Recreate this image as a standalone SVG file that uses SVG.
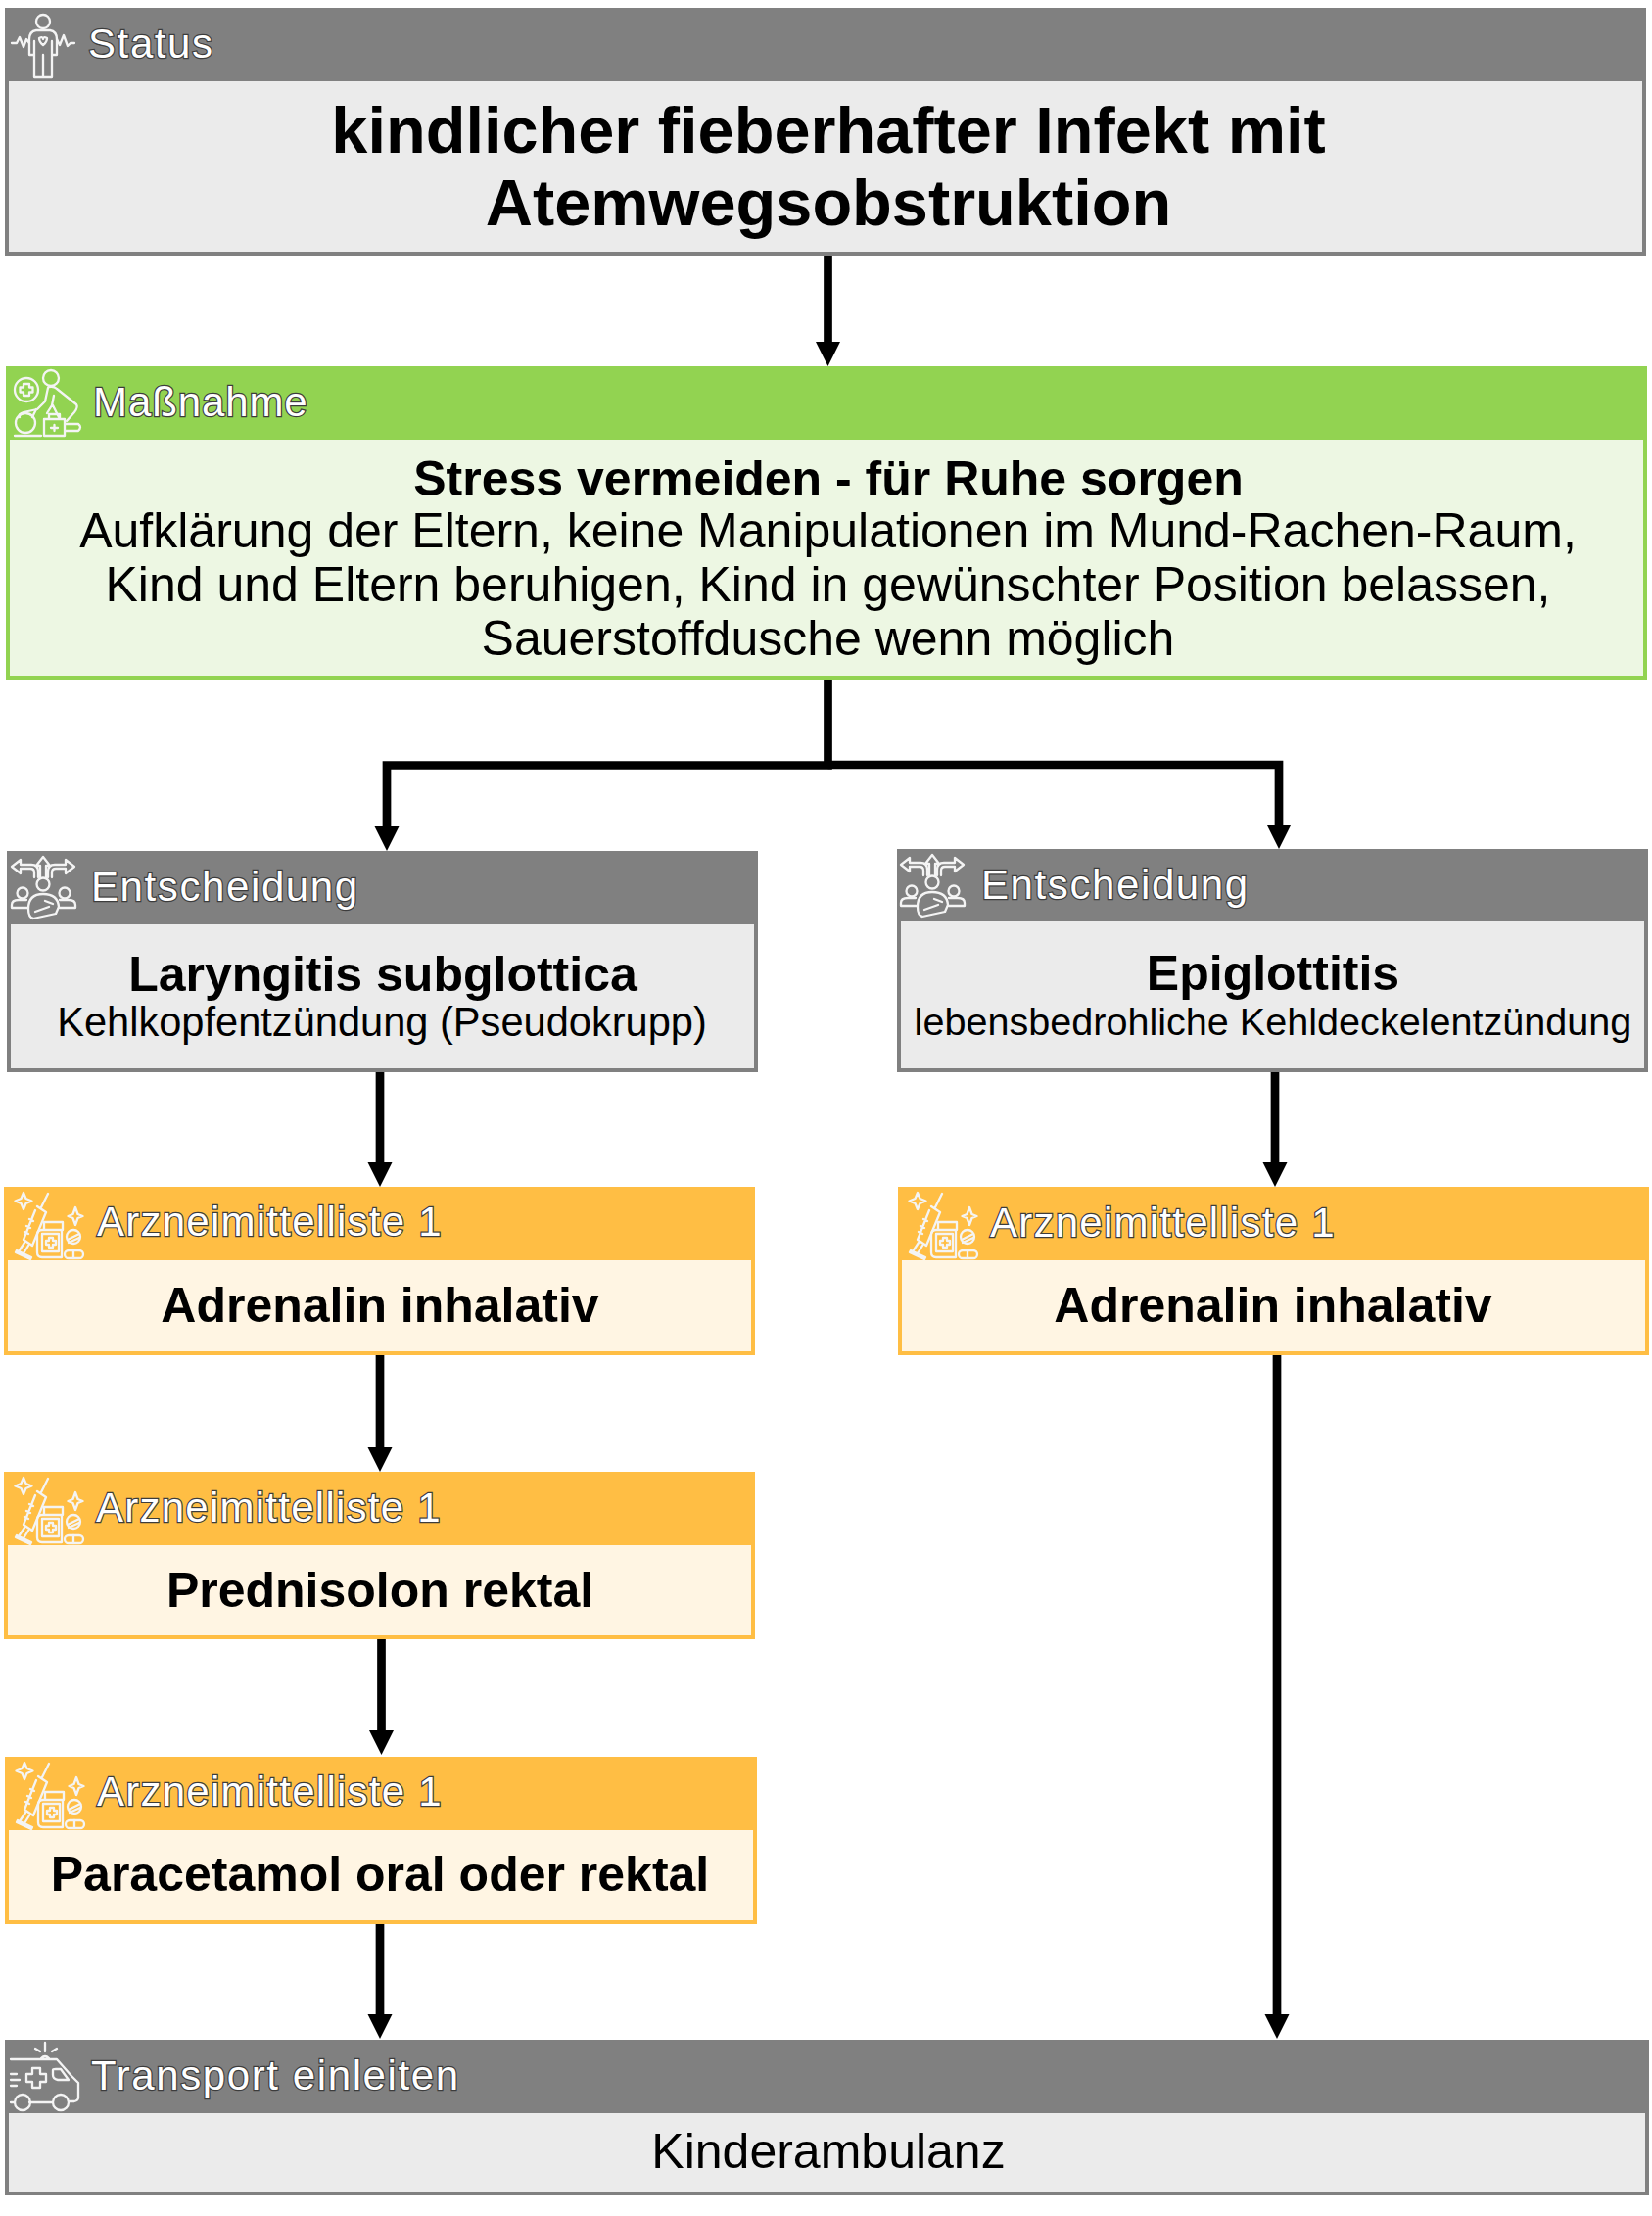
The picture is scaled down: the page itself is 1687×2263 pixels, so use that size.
<svg xmlns="http://www.w3.org/2000/svg" width="1687" height="2263" viewBox="0 0 1687 2263">
<style>
text{font-family:"Liberation Sans",Arial,sans-serif;text-anchor:middle;fill:#000}
.h{text-anchor:start;font-size:42px;fill:#fff;stroke:#3c3c3c;stroke-width:2.400px;paint-order:stroke;letter-spacing:1.600px}
.ha{letter-spacing:1.250px}
.hm{letter-spacing:.9px}
.t{font-size:66.700px;font-weight:bold}
.m{font-size:50px}
.mb{font-size:50px;font-weight:bold}
.gb{fill:#ebebeb;stroke:#808080;stroke-width:4}
.gh{fill:#808080}
.gr{fill:#edf7e3;stroke:#92d351;stroke-width:4}
.grh{fill:#92d351}
.or{fill:#fff5e3;stroke:#ffbe44;stroke-width:4}
.orh{fill:#ffbe44}
.c{fill:none;stroke:#000;stroke-width:8.700}
.i{fill:none;stroke:#f4f4f4;stroke-width:2.300;stroke-linecap:round;stroke-linejoin:round}
</style>
<defs>
<marker id="a" markerUnits="userSpaceOnUse" markerWidth="26" markerHeight="26" refX="10" refY="13" orient="auto"><path d="M0 0.500L25 13L0 25.500Z" fill="#000"/></marker>
<g id="ist" class="i"><circle cx="44" cy="22" r="7"/><path d="M12 44h5l3-6 4 10 3-8 3 4M58 40l3 6 4-10 4 11 3-3h4"/><path d="M30 56V40q0-8 7-9h14q7 1 7 9v16h-5V42M30 56h5V42M35 44v35h9V56v23h9V42"/><path d="M40 39q4-2 4 1 0-3 4-1 0 4-4 7-4-3-4-7Z"/></g>
<g id="ima" class="i"><circle cx="52" cy="26" r="8"/><circle cx="27" cy="38" r="12"/><path d="M24 32h6v3.500h3.500v5H30v3.500h-6v-3.500h-3.500v-5H24Z"/><path d="M49 36l-3 14-8 8-14 3q-6 2-4 5M50 35q5-1 8 2l20 16q2 3-2 8l-8 9M55 44l-2 10-5 8M54 54l6 12"/><circle cx="26" cy="72" r="10"/><path d="M15 85h27M45 68h21v17H45ZM50 68v-5h11v5M52 77h7M55.500 74v6M66 73h14q4 3 0 7H66M37 58l-4 8"/></g>
<g id="ien" class="i"><path d="M41 46V34h-4l7-9 7 9h-4v12M35 46V41q0-4-4-4H21v5l-9-7 9-7v5h11q7 0 7 7v6M53 46V41q0-4 4-4h10v5l9-7-9-7v5H56q-7 0-7 7v6"/><circle cx="44" cy="53" r="6.500"/><circle cx="23" cy="62" r="5.500"/><circle cx="66" cy="62" r="5.500"/><path d="M12 77v-3q0-5 7-5h8M77 77v-3q0-5-7-5h-9M12 77h16M61 77h16M29 78q0-15 15-15t16 13l-3 7-23 5q-5-1-5-10ZM36 81l14-5M46 70l8 3"/></g>
<g id="iar" class="i"><path d="M24 18l2.500 6 6 2.500-6 2.500-2.500 6-2.500-6-6-2.500 6-2.500ZM77 33l2.500 7 5 2-5 2-2.500 7-2.500-7-5-2 5-2Z"/><path d="M49 19l-7 14M38 32l9 6M36 36l-12 30 9 6 14-34M30 45l4 2M27 52l4 2M25 58l4 2M25 69l-6 9M29 72l-5 8M17 77l15 7-1 2-15-7Z"/><path d="M45 48h19v8H45ZM47 56H43q-5 0-5 5v18q0 5 5 5h20V56M43 60h17v18H43ZM50 64h4v3h3v4h-3v3h-4v-3h-3v-4h3Z"/><circle cx="75" cy="63" r="7"/><path d="M69 66l12-6M70 69l11-5"/><rect x="66" y="77" width="19" height="8" rx="4"/><path d="M75 77v8"/></g>
<g id="itr" class="i"><path d="M46 36v9M36 42l5 3M58 42l-5 3M42 52q4-4 8 0M11 53H58l15 17 7 7v15q0 3-4 4h-5M11 68h6M11 74h9M11 80h6M30 97H54M11 97h4"/><path d="M33 62h8v6h6v8h-6v6h-8v-6h-6v-8h6Z"/><path d="M54 64q0-1 3-1h5l8 11h-11q-5-1-5-5Z"/><circle cx="23" cy="97" r="8"/><circle cx="62" cy="97" r="8"/></g>
</defs>

<g id="connectors">
<path class="c" d="M845.500 261V359" marker-end="url(#a)"/>
<path class="c" d="M845.500 694V781.500H395V854" marker-end="url(#a)"/>
<path class="c" d="M845.500 781H1306V852" marker-end="url(#a)"/>
<path class="c" d="M388 1095V1197" marker-end="url(#a)"/>
<path class="c" d="M1302 1095V1197" marker-end="url(#a)"/>
<path class="c" d="M388 1384V1488" marker-end="url(#a)"/>
<path class="c" d="M389.500 1673V1777" marker-end="url(#a)"/>
<path class="c" d="M388 1963V2067" marker-end="url(#a)"/>
<path class="c" d="M1304 1384V2067" marker-end="url(#a)"/>
</g>

<g id="status"><rect class="gb" x="7" y="10" width="1672" height="249"/><rect class="gh" x="5" y="8" width="1676" height="75"/><use href="#ist"/><text class="h" x="90" y="59">Status</text>
<text class="t" x="846" y="156">kindlicher fieberhafter Infekt mit</text><text class="t" x="846" y="230">Atemwegsobstruktion</text></g>

<g id="massnahme"><rect class="gr" x="8" y="376" width="1672" height="316"/><rect class="grh" x="6" y="374" width="1676" height="75"/><use href="#ima" y="360"/><text class="h hm" x="95" y="425">Maßnahme</text>
<text class="mb" x="846" y="506">Stress vermeiden - für Ruhe sorgen</text>
<text class="m" x="845.500" y="559">Aufklärung der Eltern, keine Manipulationen im Mund-Rachen-Raum,</text>
<text class="m" x="845.500" y="614">Kind und Eltern beruhigen, Kind in gewünschter Position belassen,</text>
<text class="m" x="845.500" y="669">Sauerstoffdusche wenn möglich</text></g>

<g id="entscheidung1"><rect class="gb" x="9" y="871" width="763" height="222"/><rect class="gh" x="7" y="869" width="767" height="75"/><use href="#ien" y="850"/><text class="h" x="93" y="920">Entscheidung</text>
<text class="mb" x="391" y="1012">Laryngitis subglottica</text><text x="390" y="1058" font-size="41.600">Kehlkopfentzündung (Pseudokrupp)</text></g>

<g id="entscheidung2"><rect class="gb" x="918" y="869" width="763" height="224"/><rect class="gh" x="916" y="867" width="767" height="74"/><use href="#ien" x="908" y="848"/><text class="h" x="1002" y="918">Entscheidung</text>
<text class="mb" x="1300" y="1011">Epiglottitis</text><text x="1300" y="1057" font-size="39.600">lebensbedrohliche Kehldeckelentzündung</text></g>

<g id="arznei1"><rect class="or" x="6" y="1214" width="763" height="168"/><rect class="orh" x="4" y="1212" width="767" height="75"/><use href="#iar" y="1200"/><text class="h ha" x="99" y="1262">Arzneimittelliste 1</text>
<text class="mb" x="388" y="1350">Adrenalin inhalativ</text></g>

<g id="arznei2"><rect class="or" x="919" y="1214" width="763" height="168"/><rect class="orh" x="917" y="1212" width="767" height="75"/><use href="#iar" x="913" y="1200"/><text class="h ha" x="1011" y="1263">Arzneimittelliste 1</text>
<text class="mb" x="1300" y="1350">Adrenalin inhalativ</text></g>

<g id="arznei3"><rect class="or" x="6" y="1505" width="763" height="167"/><rect class="orh" x="4" y="1503" width="767" height="75"/><use href="#iar" y="1491"/><text class="h ha" x="98" y="1554">Arzneimittelliste 1</text>
<text class="mb" x="388" y="1641">Prednisolon rektal</text></g>

<g id="arznei4"><rect class="or" x="7" y="1796" width="764" height="167"/><rect class="orh" x="5" y="1794" width="768" height="75"/><use href="#iar" x="1" y="1782"/><text class="h ha" x="99" y="1844">Arzneimittelliste 1</text>
<text class="mb" x="388" y="1931">Paracetamol oral oder rektal</text></g>

<g id="transport"><rect class="gb" x="7" y="2085" width="1675" height="155"/><rect class="gh" x="5" y="2083" width="1679" height="75"/><use href="#itr" y="2050"/><text class="h" x="93" y="2134">Transport einleiten</text>
<text class="m" x="846" y="2214">Kinderambulanz</text></g>
</svg>
